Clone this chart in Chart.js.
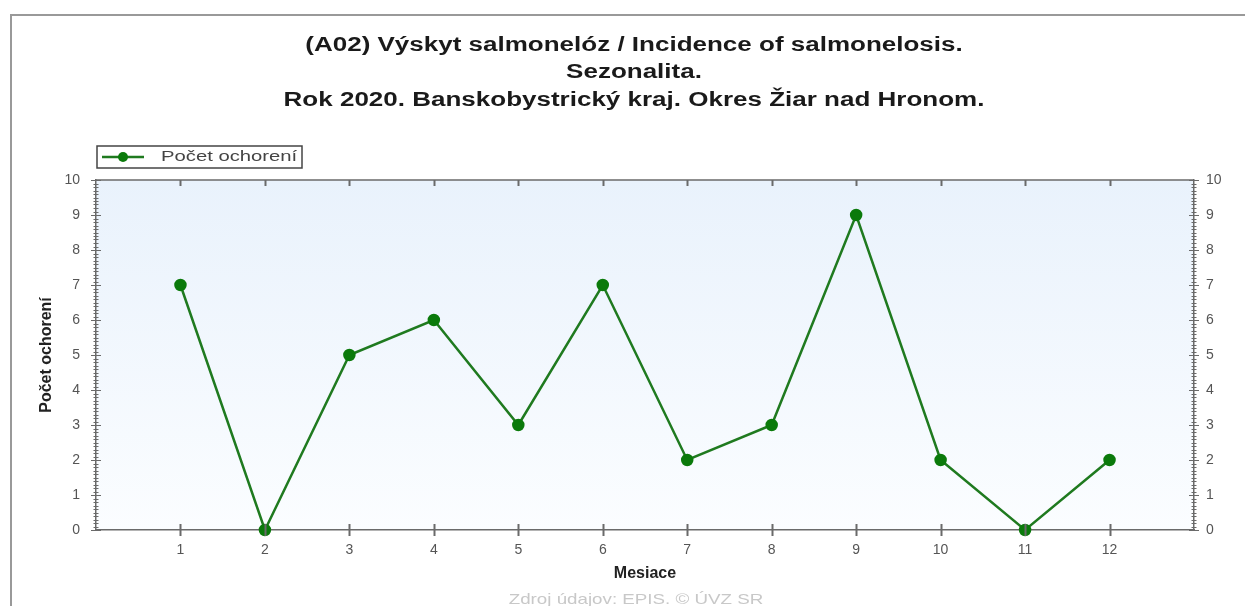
<!DOCTYPE html>
<html>
<head>
<meta charset="utf-8">
<script src="https://cdn.jsdelivr.net/npm/chart.js@4.4.1/dist/chart.umd.min.js"></script>
<style>
  html, body { margin: 0; padding: 0; background: #fff; }
  #wrap { width: 1245px; height: 606px; position: relative; }
</style>
</head>
<body>
<div id="wrap"><canvas id="seasonChart"></canvas></div>
<script>
// months on the x axis and cases per month
const months = [1, 2, 3, 4, 5, 6, 7, 8, 9, 10, 11, 12];
const cases = [7, 0, 5, 6, 3, 7, 2, 3, 9, 2, 0, 2];
const titleLines = [
    '(A02) Výskyt salmonelóz / Incidence of salmonelosis.',
    'Sezonalita.',
    'Rok 2020. Banskobystrický kraj. Okres Žiar nad Hronom.'
];
const seriesName = 'Počet ochorení';
const yAxisTitle = 'Počet ochorení';
const xAxisTitle = 'Mesiace';
const sourceNote = 'Zdroj údajov: EPIS. © ÚVZ SR';

const lineGreen = '#1f7a1f';
const axisGray = '#6a6a6a';
const labelGray = '#555';
const fontFam = '"Liberation Sans", Arial, sans-serif';

// the source picture is a bit wide, so texts get a horizontal stretch
function wideText(ctx, text, cx, cy, sx, align) {
    ctx.save();
    ctx.translate(cx, cy);
    ctx.scale(sx, 1);
    ctx.textAlign = align || 'center';
    ctx.textBaseline = 'middle';
    ctx.fillText(text, 0, 0);
    ctx.restore();
}

// frame, gradient background, title, tick marks, legend box and footer
const decorPlugin = {
    id: 'decor',
    beforeDraw(chart) {
        const { ctx, chartArea: a } = chart;
        ctx.save();
        ctx.fillStyle = '#fff';
        ctx.fillRect(0, 0, chart.width, chart.height);
        // outer frame
        ctx.strokeStyle = '#999';
        ctx.lineWidth = 2;
        ctx.beginPath();
        ctx.moveTo(11, chart.height);
        ctx.lineTo(11, 15);
        ctx.lineTo(chart.width, 15);
        ctx.stroke();
        // plot background
        const g = ctx.createLinearGradient(0, a.top, 0, a.bottom);
        g.addColorStop(0, '#e9f2fc');
        g.addColorStop(1, '#fbfdff');
        ctx.fillStyle = g;
        ctx.fillRect(a.left, a.top, a.right - a.left, a.bottom - a.top);
        // title
        ctx.fillStyle = '#1a1a1a';
        ctx.font = 'bold 20px ' + fontFam;
        const ty = [45, 72, 100];
        titleLines.forEach((t, i) => wideText(ctx, t, 634, ty[i], 1.3));
        ctx.restore();
    },
    afterDraw(chart) {
        const { ctx, chartArea: a } = chart;
        const x = chart.scales.x, y = chart.scales.y;
        ctx.save();
        ctx.strokeStyle = axisGray;
        // top border
        ctx.lineWidth = 1.5;
        ctx.beginPath();
        ctx.moveTo(a.left, a.top);
        ctx.lineTo(a.right, a.top);
        ctx.stroke();
        // y ticks, major and minor, on both sides
        ctx.lineWidth = 1.2;
        for (let i = 0; i <= 100; i++) {
            const py = Math.round(y.getPixelForValue(i / 10)) + 0.5;
            const len = i % 10 === 0 ? 5 : 2.5;
            ctx.beginPath();
            ctx.moveTo(a.left - len, py); ctx.lineTo(a.left + len, py);
            ctx.moveTo(a.right - len, py); ctx.lineTo(a.right + len, py);
            ctx.stroke();
        }
        // x ticks: crossing at bottom, inward at top
        ctx.lineWidth = 2;
        months.forEach(m => {
            const px = Math.round(x.getPixelForValue(m)) + 0.5;
            ctx.beginPath();
            ctx.moveTo(px, a.bottom - 6); ctx.lineTo(px, a.bottom + 6);
            ctx.moveTo(px, a.top); ctx.lineTo(px, a.top + 6);
            ctx.stroke();
        });
        // legend
        ctx.lineWidth = 1.5;
        ctx.strokeStyle = '#444';
        ctx.strokeRect(97, 146, 205, 22);
        ctx.strokeStyle = lineGreen;
        ctx.lineWidth = 2.5;
        ctx.beginPath();
        ctx.moveTo(102, 157); ctx.lineTo(144, 157);
        ctx.stroke();
        ctx.fillStyle = '#0b7a0b';
        ctx.beginPath();
        ctx.arc(123, 157, 5, 0, Math.PI * 2);
        ctx.fill();
        ctx.fillStyle = '#444';
        ctx.font = '15px ' + fontFam;
        wideText(ctx, seriesName, 161, 157, 1.35, 'left');
        // footer
        ctx.fillStyle = '#c8c8c8';
        ctx.font = '15px ' + fontFam;
        wideText(ctx, sourceNote, 636, 600, 1.25);
        ctx.restore();
    }
};

const ctx = document.getElementById('seasonChart').getContext('2d');
window.seasonChart = new Chart(ctx, {
    type: 'line',
    data: {
        datasets: [{
            label: seriesName,
            data: months.map((m, i) => ({ x: m, y: cases[i] })),
            borderColor: lineGreen,
            borderWidth: 2.5,
            backgroundColor: '#0b7a0b',
            pointBackgroundColor: '#0b7a0b',
            pointBorderColor: '#0b7a0b',
            pointRadius: 5,
            tension: 0,
            clip: false
        }]
    },
    options: {
        responsive: true,
        maintainAspectRatio: false,
        animation: false,
        layout: { padding: { left: 22, right: 0, top: 180, bottom: 0 } },
        plugins: {
            legend: { display: false },
            tooltip: { enabled: false },
            title: { display: false }
        },
        scales: {
            x: {
                type: 'linear',
                position: 'bottom',
                min: 0,
                max: 13,
                grid: { display: false, drawTicks: false },
                border: { display: true, color: axisGray, width: 1.5 },
                ticks: {
                    stepSize: 1,
                    padding: 12,
                    color: labelGray,
                    font: { family: fontFam, size: 14 },
                    callback: v => (v >= 1 && v <= 12 ? String(v) : '')
                },
                title: {
                    display: true,
                    text: xAxisTitle,
                    color: '#222',
                    font: { family: fontFam, size: 16, weight: 'bold' },
                    padding: { top: 0, bottom: 23 }
                },
                afterFit(scale) { scale.height = 76; }
            },
            y: {
                position: 'left',
                min: 0,
                max: 10,
                grid: { display: false, drawTicks: false },
                border: { display: true, color: axisGray, width: 1.5 },
                ticks: {
                    stepSize: 1,
                    padding: 16,
                    color: labelGray,
                    font: { family: fontFam, size: 14 }
                },
                title: {
                    display: true,
                    text: yAxisTitle,
                    color: '#222',
                    font: { family: fontFam, size: 16, weight: 'bold' },
                    padding: { top: 15, bottom: 0 }
                },
                afterFit(scale) { scale.width = 74; }
            },
            y2: {
                position: 'right',
                min: 0,
                max: 10,
                grid: { display: false, drawTicks: false },
                border: { display: true, color: axisGray, width: 1.5 },
                ticks: {
                    stepSize: 1,
                    padding: 12,
                    color: labelGray,
                    font: { family: fontFam, size: 14 }
                },
                afterFit(scale) { scale.width = 51; }
            }
        }
    },
    plugins: [decorPlugin]
});
</script>
</body>
</html>
